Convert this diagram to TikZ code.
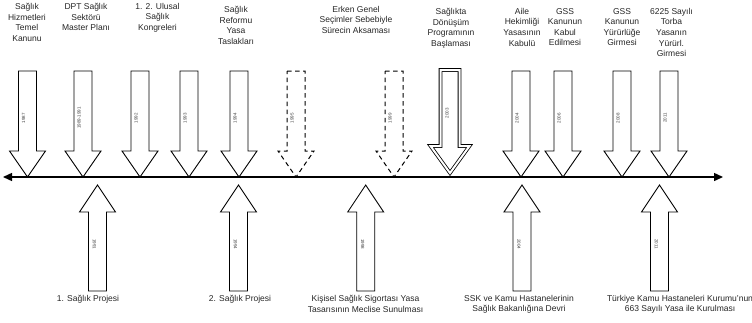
\documentclass[tikz,border=0pt]{standalone}
\usepackage{fontspec}
\setmainfont{Liberation Sans}
\usetikzlibrary{arrows.meta}

% downward event arrow: #1 name, #2 x, #3 path style, #4 year
\newcommand{\tlDown}[4]{%
  \path[#3] ({#2-9},71) -- ({#2+9},71) -- ({#2+9},151) -- ({#2+18},151)
    -- (#2,177) -- ({#2-18},151) -- ({#2-9},151) -- cycle;
  \node[yearlbl, rotate=90] (#1) at ({#2-4},118) {#4};}
% upward event arrow: #1 name, #2 x, #3 year
\newcommand{\tlUp}[3]{%
  \path[arrowbox] (#2,185) -- ({#2+18},212) -- ({#2+9},212) -- ({#2+9},291)
    -- ({#2-9},291) -- ({#2-9},212) -- ({#2-18},212) -- cycle;
  \node[yearlbl, rotate=-90] (#1) at ({#2-3},244) {#3};}

\begin{document}
\begin{tikzpicture}[x=1pt, y=-1pt,
  arrowbox/.style={draw=black, line width=0.9pt, fill=white, line join=miter},
  dashbox/.style={arrowbox, line width=1pt, dash pattern=on 4.5pt off 3.5pt},
  doublebox/.style={draw=black, double=white, double distance=2pt, line width=0.8pt, line join=miter},
  yearlbl/.style={font=\fontsize{4.5}{5}\selectfont, text=black!75, inner sep=0},
  eventlbl/.style={font=\fontsize{8.5}{10.6}\selectfont, align=center, inner sep=0, anchor=north, text=black!85},
  axisline/.style={line width=1.4pt, {Triangle[length=9pt,width=8pt]}-{Triangle[length=9pt,width=8pt]}}
]
\useasboundingbox[fill=white] (0,0) rectangle (752,322);

% events above the time line
\tlDown{y1987}{27.5}{arrowbox}{1987}
\tlDown{y1989}{83}{arrowbox}{1989-1991}
\tlDown{y1992}{140}{arrowbox}{1992}
\tlDown{y1993}{189}{arrowbox}{1993}
\tlDown{y1994}{239}{arrowbox}{1994}
\tlDown{y1995}{296}{dashbox}{1995}
\tlDown{y1999}{394}{dashbox}{1999}
\path[doublebox] (440.5,70) -- (459.5,70) -- (459.5,146) -- (469.5,146)
  -- (450,173) -- (430.5,146) -- (440.5,146) -- cycle;
\node[yearlbl, rotate=90] (y2003) at (447,113) {2003};
\tlDown{y2004}{521}{arrowbox}{2004}
\tlDown{y2006}{563}{arrowbox}{2006}
\tlDown{y2008}{622}{arrowbox}{2008}
\tlDown{y2011}{669}{arrowbox}{2011}

% events below the time line
\tlUp{b1991}{97.5}{1991}
\tlUp{b1994}{238.5}{1994}
\tlUp{b1998}{365.7}{1998}
\tlUp{b2004}{522}{2004}
\tlUp{b2011}{659.5}{2011}

% time axis
\coordinate (tstart) at (3,177);
\coordinate (tend) at (723,177);
\draw[axisline] (tstart) -- (tend);

% labels above
\node[eventlbl] (t1) at (27,3) {Sağlık\\Hizmetleri\\Temel\\Kanunu};
\node[eventlbl] (t2) at (86,3) {DPT Sağlık\\Sektörü\\Master Planı};
\node[eventlbl] (t3) at (157.5,3) {1. 2. Ulusal\\Sağlık\\Kongreleri};
\node[eventlbl] (t4) at (236,6) {Sağlık\\Reformu\\Yasa\\Taslakları};
\node[eventlbl] (t5) at (356,6) {Erken Genel\\Seçimler Sebebiyle\\Sürecin Aksaması};
\node[eventlbl] (t6) at (451,8) {Sağlıkta\\Dönüşüm\\Programının\\Başlaması};
\node[eventlbl] (t7) at (522,8) {Aile\\Hekimliği\\Yasasının\\Kabulü};
\node[eventlbl] (t8) at (565,8) {GSS\\Kanunun\\Kabul\\Edilmesi};
\node[eventlbl] (t9) at (622,8) {GSS\\Kanunun\\Yürürlüğe\\Girmesi};
\node[eventlbl] (t10) at (671.5,8) {6225 Sayılı\\Torba\\Yasanın\\Yürürl.\\Girmesi};

% labels below
\node[eventlbl] (l1) at (88,295) {1. Sağlık Projesi};
\node[eventlbl] (l2) at (240,295) {2. Sağlık Projesi};
\node[eventlbl] (l3) at (365.5,295) {Kişisel Sağlık Sigortası Yasa\\Tasarısının Meclise Sunulması};
\node[eventlbl] (l4) at (519,295) {SSK ve Kamu Hastanelerinin\\Sağlık Bakanlığına Devri};
\node[eventlbl] (l5) at (680,295) {Türkiye Kamu Hastaneleri Kurumu'nun\\663 Sayılı Yasa ile Kurulması};
\end{tikzpicture}
\end{document}
